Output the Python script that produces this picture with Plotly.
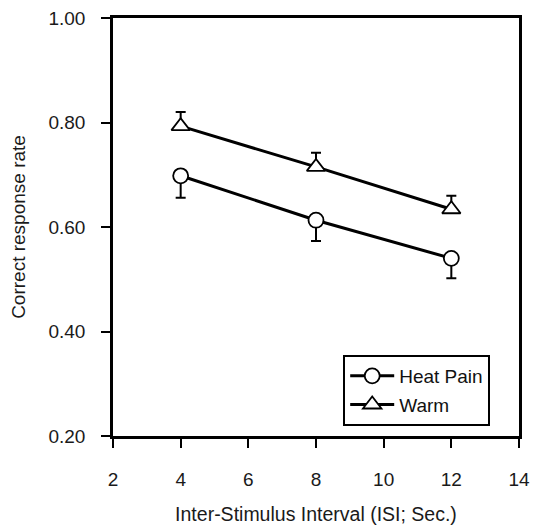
import plotly.graph_objects as go

isi = [4, 8, 12]
heat_pain = [0.698, 0.613, 0.540]
heat_pain_err = [0.042, 0.040, 0.038]
warm = [0.793, 0.715, 0.634]
warm_err = [0.027, 0.027, 0.026]
zeros = [0, 0, 0]

x_ticks = [2, 4, 6, 8, 10, 12, 14]
y_ticks = [0.20, 0.40, 0.60, 0.80, 1.00]

font = "Liberation Sans, Arial, sans-serif"

fig = go.Figure()
fig.add_trace(go.Scatter(
    x=isi, y=heat_pain, name="Heat Pain", mode="lines+markers", legendgroup="hp",
    line=dict(color="black", width=3),
    marker=dict(symbol="circle", size=15, color="white", line=dict(width=1.8, color="black")),
    error_y=dict(type="data", symmetric=False, array=zeros, arrayminus=heat_pain_err,
                 color="black", thickness=2, width=5),
))
fig.add_trace(go.Scatter(
    x=isi, y=warm, name="Warm", mode="lines+markers", legendgroup="w",
    line=dict(color="black", width=3),
    marker=dict(symbol="triangle-up", size=16, color="white", line=dict(width=1.8, color="black")),
    error_y=dict(type="data", symmetric=False, array=warm_err, arrayminus=zeros,
                 color="black", thickness=2, width=5),
))

fig.update_layout(
    width=534, height=525,
    margin=dict(l=113, r=15, t=18, b=89, autoexpand=False),
    paper_bgcolor="white", plot_bgcolor="white",
    font=dict(family=font, size=19, color="#1a1a1a"),
    showlegend=True,
    legend=dict(x=0.567, y=0.024, xanchor="left", yanchor="bottom",
                bordercolor="black", borderwidth=2, bgcolor="white",
                font=dict(size=19, color="#111"), itemwidth=44,
                tracegroupgap=1),
    xaxis=dict(range=[2, 14], tickvals=x_ticks, ticks="outside", ticklen=9,
               tickwidth=2, tickcolor="black", showline=True, linecolor="black",
               linewidth=2.5, mirror=True, showgrid=False, zeroline=False,
               ticklabelstandoff=15, automargin=False, ticklabeloverflow="allow",
               title=dict(text="Inter-Stimulus Interval (ISI; Sec.)", standoff=26,
                          font=dict(size=19.5)),
               tickfont=dict(size=19)),
    yaxis=dict(range=[0.20, 1.00], tickvals=y_ticks, tickformat=".2f",
               ticks="outside", ticklen=9, tickwidth=2, tickcolor="black",
               showline=True, linecolor="black", linewidth=2.5, mirror=True,
               showgrid=False, zeroline=False, ticklabelstandoff=12, automargin=False,
               ticklabeloverflow="allow",
               title=dict(text="Correct response rate", standoff=18,
                          font=dict(size=19)),
               tickfont=dict(size=19)),
)

fig.write_html(
    "out.html",
    config={"displayModeBar": False},
    post_script="document.body.style.margin='0';document.body.style.overflow='hidden';",
)
